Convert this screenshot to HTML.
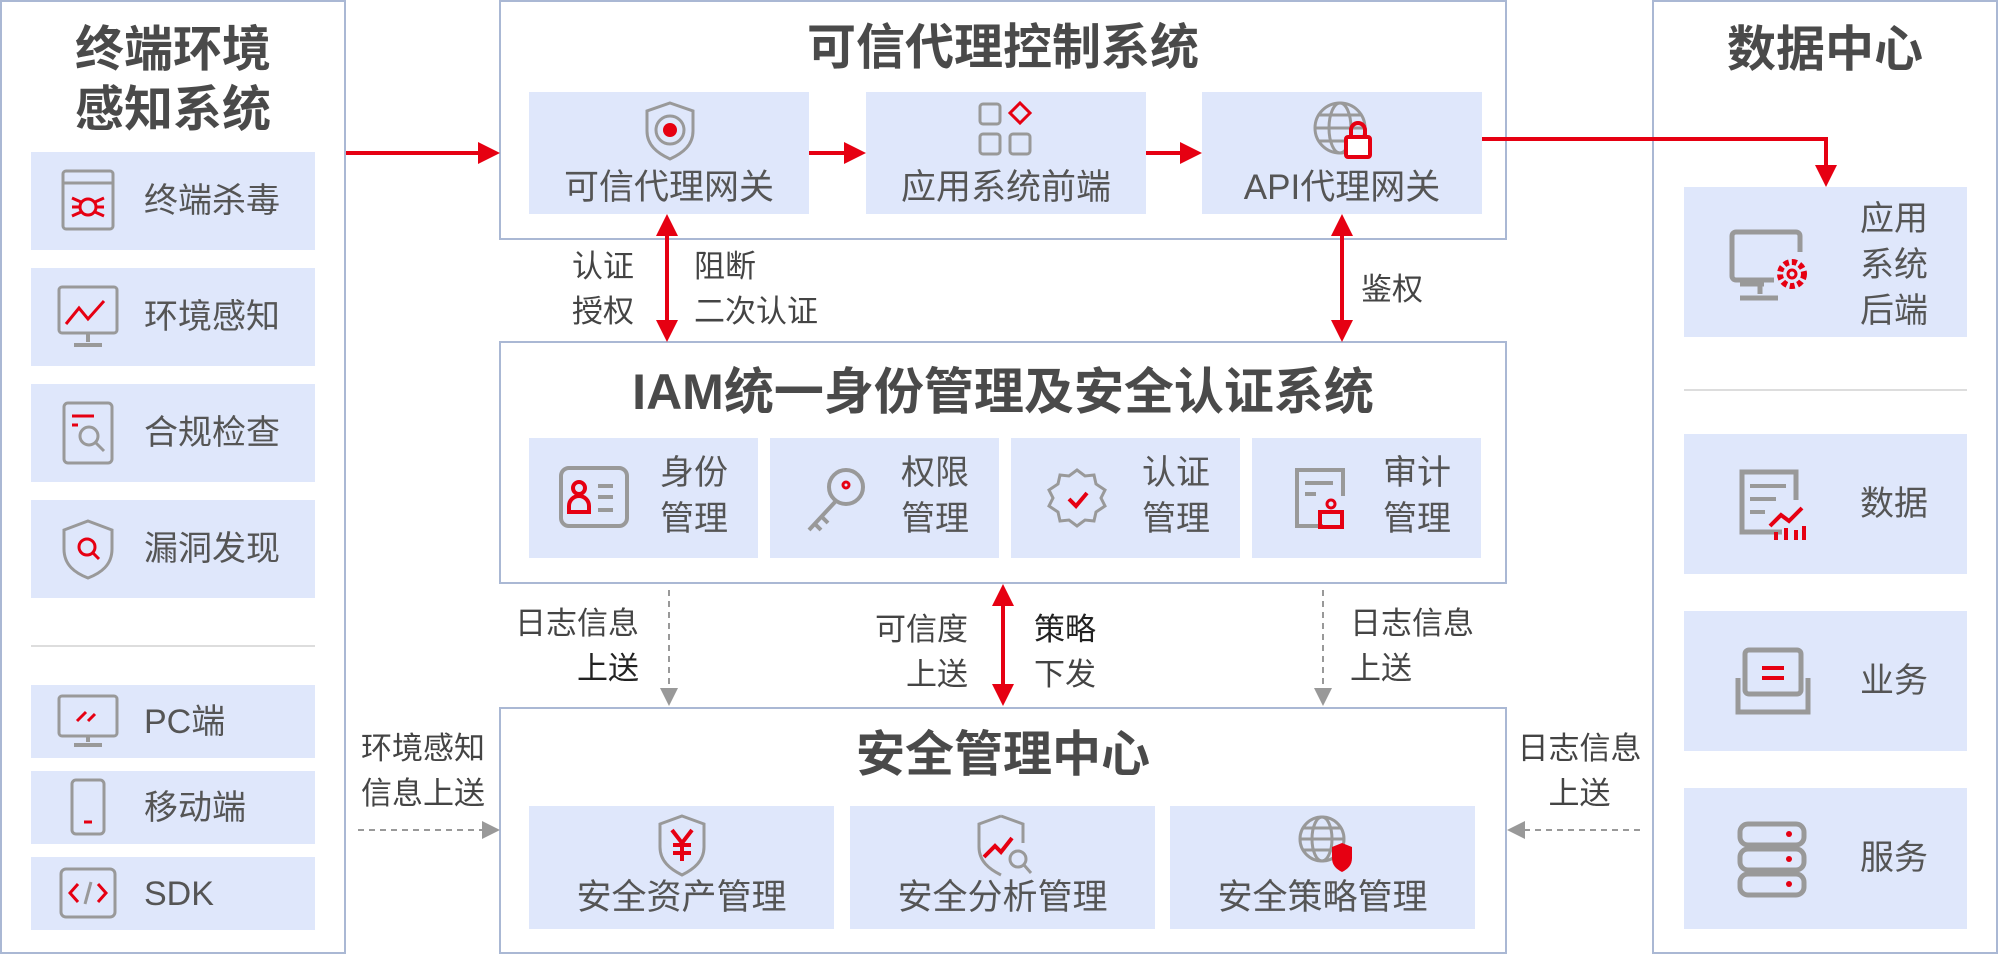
<!DOCTYPE html>
<html><head><meta charset="utf-8">
<style>
*{margin:0;padding:0;box-sizing:border-box}
body{width:2000px;height:954px;background:#fff;position:relative;overflow:hidden;font-family:"Liberation Sans","Noto Sans CJK SC",sans-serif;color:#555}
.p{position:absolute;border:2px solid #aab8d4;background:#fff}
.b{position:absolute;background:#dfe7fb}
.t{position:absolute;font-weight:bold;color:#4a4a4a;text-align:center;white-space:nowrap}
.l{position:absolute;font-size:34px;line-height:40px;white-space:nowrap;color:#555}
.lb{position:absolute;font-size:31px;line-height:45px;white-space:nowrap;color:#444}
svg.i{position:absolute}
</style></head><body>
<div class="p" style="left:0;top:0;width:346px;height:954px"></div>
<div class="p" style="left:499px;top:0;width:1008px;height:240px"></div>
<div class="p" style="left:499px;top:341px;width:1008px;height:243px"></div>
<div class="p" style="left:499px;top:707px;width:1008px;height:247px"></div>
<div class="p" style="left:1652px;top:0;width:346px;height:954px"></div>

<!-- left -->
<div class="t" style="left:0;width:346px;top:20px;font-size:49px;line-height:60px">终端环境<br>感知系统</div>
<div class="b" style="left:31px;top:152px;width:284px;height:98px"></div>
<div class="b" style="left:31px;top:268px;width:284px;height:98px"></div>
<div class="b" style="left:31px;top:384px;width:284px;height:98px"></div>
<div class="b" style="left:31px;top:500px;width:284px;height:98px"></div>
<div style="position:absolute;left:31px;top:645px;width:284px;height:2px;background:#ddd"></div>
<div class="b" style="left:31px;top:685px;width:284px;height:73px"></div>
<div class="b" style="left:31px;top:771px;width:284px;height:73px"></div>
<div class="b" style="left:31px;top:857px;width:284px;height:73px"></div>
<div class="l" style="left:144px;top:181px">终端杀毒</div>
<div class="l" style="left:144px;top:297px">环境感知</div>
<div class="l" style="left:144px;top:413px">合规检查</div>
<div class="l" style="left:144px;top:529px">漏洞发现</div>
<div class="l" style="left:144px;top:702px">PC端</div>
<div class="l" style="left:144px;top:788px">移动端</div>
<div class="l" style="left:144px;top:874px">SDK</div>
<svg class="i" style="left:60px;top:168px" width="56" height="66"><rect x="3" y="3" width="50" height="58" rx="3" fill="none" stroke="#999" stroke-width="3"/><line x1="3" y1="15" x2="53" y2="15" stroke="#999" stroke-width="3"/><circle cx="28" cy="39" r="8" fill="none" stroke="#e60012" stroke-width="3"/><path d="M12 30l9 4M12 39h8M12 48l9-4M44 30l-9 4M44 39h-8M44 48l-9-4" stroke="#e60012" stroke-width="3"/></svg>
<svg class="i" style="left:56px;top:284px" width="66" height="66"><rect x="3" y="3" width="58" height="46" rx="3" fill="none" stroke="#999" stroke-width="3"/><path d="M32 49v9M18 61h28" stroke="#999" stroke-width="4"/><path d="M10 40l13-16 9 11 16-18" fill="none" stroke="#e60012" stroke-width="3"/></svg>
<svg class="i" style="left:61px;top:400px" width="54" height="66"><rect x="3" y="3" width="48" height="60" rx="4" fill="none" stroke="#999" stroke-width="3"/><path d="M11 16h22M11 25h6" stroke="#e60012" stroke-width="3"/><circle cx="28" cy="36" r="9" fill="none" stroke="#999" stroke-width="3"/><path d="M35 43l8 8" stroke="#999" stroke-width="3"/></svg>
<svg class="i" style="left:58px;top:517px" width="60" height="66"><path d="M30 4l24 9v19c0 16-11 24-24 29C17 56 6 48 6 32V13z" fill="none" stroke="#999" stroke-width="3"/><circle cx="29" cy="30" r="8" fill="none" stroke="#e60012" stroke-width="3"/><path d="M35 36l6 6" stroke="#e60012" stroke-width="3"/></svg>
<svg class="i" style="left:56px;top:693px" width="64" height="56"><rect x="3" y="3" width="58" height="40" rx="3" fill="none" stroke="#999" stroke-width="3"/><path d="M32 43v6M18 52h28" stroke="#999" stroke-width="4"/><path d="M21 28l9-9M32 28l7-7" stroke="#e60012" stroke-width="3"/></svg>
<svg class="i" style="left:69px;top:777px" width="38" height="60"><rect x="3" y="3" width="32" height="54" rx="4" fill="none" stroke="#999" stroke-width="3"/><path d="M15 45h8" stroke="#e60012" stroke-width="3"/></svg>
<svg class="i" style="left:58px;top:866px" width="60" height="54"><rect x="3" y="3" width="54" height="48" rx="5" fill="none" stroke="#999" stroke-width="3"/><path d="M20 18l-8 9 8 9M40 18l8 9-8 9" fill="none" stroke="#e60012" stroke-width="3"/><path d="M33 16l-6 22" stroke="#999" stroke-width="3"/></svg>

<!-- top center -->
<div class="t" style="left:500px;width:1006px;top:19px;font-size:49px;line-height:58px">可信代理控制系统</div>
<div class="b" style="left:529px;top:92px;width:280px;height:122px"></div>
<div class="b" style="left:866px;top:92px;width:280px;height:122px"></div>
<div class="b" style="left:1202px;top:92px;width:280px;height:122px"></div>
<div class="l" style="left:529px;width:280px;text-align:center;top:168px;font-size:35px">可信代理网关</div>
<div class="l" style="left:866px;width:280px;text-align:center;top:168px;font-size:35px">应用系统前端</div>
<div class="l" style="left:1202px;width:280px;text-align:center;top:168px;font-size:35px">API代理网关</div>
<svg class="i" style="left:642px;top:100px" width="56" height="62"><path d="M28 3l23 8v20c0 14-10 22-23 28C15 53 5 45 5 31V11z" fill="none" stroke="#999" stroke-width="3"/><circle cx="28" cy="30" r="14" fill="none" stroke="#999" stroke-width="3"/><circle cx="28" cy="30" r="7" fill="#e60012"/></svg>
<svg class="i" style="left:977px;top:101px" width="60" height="60"><rect x="3" y="3" width="20" height="20" rx="3" fill="none" stroke="#999" stroke-width="3"/><rect x="3" y="33" width="20" height="20" rx="3" fill="none" stroke="#999" stroke-width="3"/><rect x="33" y="33" width="20" height="20" rx="3" fill="none" stroke="#999" stroke-width="3"/><path d="M43 2l10 10-10 10-10-10z" fill="none" stroke="#e60012" stroke-width="3"/></svg>
<svg class="i" style="left:1311px;top:99px" width="64" height="64"><circle cx="29" cy="29" r="25" fill="none" stroke="#999" stroke-width="3"/><ellipse cx="29" cy="29" rx="11" ry="25" fill="none" stroke="#999" stroke-width="3"/><path d="M4 29h50M8 16h42M8 42h42" stroke="#999" stroke-width="3"/><rect x="35" y="38" width="24" height="20" rx="2" fill="#fff" stroke="#e60012" stroke-width="4"/><path d="M40 38v-7a7 7 0 0 1 14 0v7" fill="none" stroke="#e60012" stroke-width="4"/></svg>

<!-- right -->
<div class="t" style="left:1652px;width:346px;top:20px;font-size:49px;line-height:60px">数据中心</div>
<div class="b" style="left:1684px;top:187px;width:283px;height:150px"></div>
<div style="position:absolute;left:1684px;top:389px;width:283px;height:2px;background:#ddd"></div>
<div class="b" style="left:1684px;top:434px;width:283px;height:140px"></div>
<div class="b" style="left:1684px;top:611px;width:283px;height:140px"></div>
<div class="b" style="left:1684px;top:788px;width:283px;height:141px"></div>
<div class="l" style="left:1860px;top:196px;line-height:46px">应用<br>系统<br>后端</div>
<div class="l" style="left:1860px;top:484px">数据</div>
<div class="l" style="left:1860px;top:661px">业务</div>
<div class="l" style="left:1860px;top:838px">服务</div>
<svg class="i" style="left:1728px;top:228px" width="84" height="80"><path d="M46 52H8a4 4 0 0 1-4-4V8a4 4 0 0 1 4-4h60a4 4 0 0 1 4 4v16" fill="none" stroke="#999" stroke-width="5"/><path d="M32 54v12M12 70h38M12 56h24" stroke="#999" stroke-width="5"/><circle cx="64" cy="46" r="12" fill="none" stroke="#e60012" stroke-width="6" stroke-dasharray="5 3"/><circle cx="64" cy="46" r="4" fill="none" stroke="#e60012" stroke-width="3"/></svg>
<svg class="i" style="left:1736px;top:466px" width="74" height="76"><path d="M46 66H6V6h54v28" fill="none" stroke="#999" stroke-width="5"/><path d="M14 20h36M14 33h26M14 46h15" stroke="#999" stroke-width="4"/><path d="M34 60l11-11 8 6 13-13" fill="none" stroke="#e60012" stroke-width="4"/><path d="M40 74v-8M50 74v-12M60 74v-10M68 74v-14" stroke="#e60012" stroke-width="4"/></svg>
<svg class="i" style="left:1734px;top:646px" width="78" height="72"><rect x="11" y="4" width="56" height="44" rx="4" fill="none" stroke="#999" stroke-width="5"/><path d="M28 22h22M28 32h22" stroke="#e60012" stroke-width="4"/><path d="M4 32v34h70V32" fill="none" stroke="#999" stroke-width="5"/></svg>
<svg class="i" style="left:1736px;top:820px" width="72" height="80"><rect x="4" y="4" width="64" height="21" rx="8" fill="none" stroke="#999" stroke-width="5"/><rect x="4" y="29" width="64" height="21" rx="8" fill="none" stroke="#999" stroke-width="5"/><rect x="4" y="54" width="64" height="21" rx="8" fill="none" stroke="#999" stroke-width="5"/><circle cx="53" cy="14" r="3" fill="#e60012"/><circle cx="53" cy="39" r="3" fill="#e60012"/><circle cx="53" cy="64" r="3" fill="#e60012"/></svg>

<!-- IAM -->
<div class="t" style="left:500px;width:1006px;top:362px;font-size:50px;line-height:60px">IAM统一身份管理及安全认证系统</div>
<div class="b" style="left:529px;top:438px;width:229px;height:120px"></div>
<div class="b" style="left:770px;top:438px;width:229px;height:120px"></div>
<div class="b" style="left:1011px;top:438px;width:229px;height:120px"></div>
<div class="b" style="left:1252px;top:438px;width:229px;height:120px"></div>
<div class="l" style="left:660px;top:450px;line-height:46px">身份<br>管理</div>
<div class="l" style="left:901px;top:450px;line-height:46px">权限<br>管理</div>
<div class="l" style="left:1142px;top:450px;line-height:46px">认证<br>管理</div>
<div class="l" style="left:1383px;top:450px;line-height:46px">审计<br>管理</div>
<svg class="i" style="left:558px;top:465px" width="72" height="64"><rect x="3" y="3" width="66" height="58" rx="8" fill="none" stroke="#999" stroke-width="4"/><circle cx="21" cy="23" r="6" fill="none" stroke="#e60012" stroke-width="4"/><path d="M11 47v-6a10 10 0 0 1 20 0v6z" fill="none" stroke="#e60012" stroke-width="4"/><path d="M40 21h15M40 32h15M40 45h15" stroke="#999" stroke-width="4"/></svg>
<svg class="i" style="left:803px;top:464px" width="66" height="70"><circle cx="43" cy="23" r="17" fill="none" stroke="#999" stroke-width="4"/><circle cx="43" cy="21" r="3" fill="none" stroke="#e60012" stroke-width="3"/><path d="M32 38L6 66M12 60l6 6M19 53l6 6" stroke="#999" stroke-width="4"/></svg>
<svg class="i" style="left:1044px;top:466px" width="66" height="66"><path d="M33 4l8 6 9-1 2 9 9 6-4 8 4 8-9 6-2 9-9-1-8 6-8-6-9 1-2-9-9-6 4-8-4-8 9-6 2-9 9 1z" fill="none" stroke="#999" stroke-width="3"/><path d="M25 33l7 7 11-13" fill="none" stroke="#e60012" stroke-width="4"/></svg>
<svg class="i" style="left:1293px;top:466px" width="60" height="66"><path d="M30 60H4V4h46v26" fill="none" stroke="#999" stroke-width="4"/><path d="M12 17h28M12 28h11" stroke="#999" stroke-width="4"/><circle cx="38" cy="38" r="4" fill="none" stroke="#e60012" stroke-width="3"/><rect x="27" y="46" width="22" height="15" fill="none" stroke="#e60012" stroke-width="4"/></svg>

<!-- security center -->
<div class="t" style="left:500px;width:1006px;top:726px;font-size:49px;line-height:58px">安全管理中心</div>
<div class="b" style="left:529px;top:806px;width:305px;height:123px"></div>
<div class="b" style="left:850px;top:806px;width:305px;height:123px"></div>
<div class="b" style="left:1170px;top:806px;width:305px;height:123px"></div>
<div class="l" style="left:529px;width:305px;text-align:center;top:878px;font-size:35px">安全资产管理</div>
<div class="l" style="left:850px;width:305px;text-align:center;top:878px;font-size:35px">安全分析管理</div>
<div class="l" style="left:1170px;width:305px;text-align:center;top:878px;font-size:35px">安全策略管理</div>
<svg class="i" style="left:655px;top:813px" width="54" height="66"><path d="M27 3l22 8v23c0 14-10 22-22 28C15 56 5 48 5 34V11z" fill="none" stroke="#999" stroke-width="3"/><path d="M17 17l10 13 10-13M27 30v18M18 32h18M18 40h18" stroke="#e60012" stroke-width="4" fill="none"/></svg>
<svg class="i" style="left:974px;top:813px" width="62" height="68"><path d="M27 3l22 8v19M27 62C15 56 5 48 5 34V11l22-8" fill="none" stroke="#999" stroke-width="3"/><path d="M10 44l11-11 6 6 11-14" fill="none" stroke="#e60012" stroke-width="4"/><circle cx="44" cy="46" r="8" fill="none" stroke="#999" stroke-width="3"/><path d="M50 52l7 8" stroke="#999" stroke-width="3"/></svg>
<svg class="i" style="left:1298px;top:815px" width="58" height="62"><circle cx="24" cy="24" r="22" fill="none" stroke="#999" stroke-width="3"/><ellipse cx="24" cy="24" rx="10" ry="22" fill="none" stroke="#999" stroke-width="3"/><path d="M2 24h44M6 13h36M6 35h36" stroke="#999" stroke-width="3"/><path d="M44 28l10 4v11c0 7-4 11-10 14-6-3-10-7-10-14V32z" fill="#e60012"/></svg>

<!-- connectors -->
<svg style="position:absolute;left:0;top:0" width="2000" height="954">
<g fill="#e60012">
<path d="M346 153h134" stroke="#e60012" stroke-width="4"/><path d="M500 153l-22-11v22z"/>
<path d="M809 153h37" stroke="#e60012" stroke-width="4"/><path d="M866 153l-22-11v22z"/>
<path d="M1146 153h36" stroke="#e60012" stroke-width="4"/><path d="M1202 153l-22-11v22z"/>
<path d="M1482 139H1826V167" fill="none" stroke="#e60012" stroke-width="4"/><path d="M1826 187l-11-22h22z"/>
<path d="M667 236V320" stroke="#e60012" stroke-width="4"/><path d="M667 214l-11 22h22z"/><path d="M667 342l-11-22h22z"/>
<path d="M1342 236V320" stroke="#e60012" stroke-width="4"/><path d="M1342 214l-11 22h22z"/><path d="M1342 342l-11-22h22z"/>
<path d="M1003 605V684" stroke="#e60012" stroke-width="4"/><path d="M1003 584l-11 22h22z"/><path d="M1003 706l-11-22h22z"/>
</g>
<g fill="#999">
<path d="M669 590V688" stroke="#999" stroke-width="2" stroke-dasharray="6 5"/><path d="M669 706l-9-18h18z"/>
<path d="M1323 590V688" stroke="#999" stroke-width="2" stroke-dasharray="6 5"/><path d="M1323 706l-9-18h18z"/>
<path d="M358 830H482" stroke="#999" stroke-width="2" stroke-dasharray="6 5"/><path d="M500 830l-18-9v18z"/>
<path d="M1640 830H1524" stroke="#999" stroke-width="2" stroke-dasharray="6 5"/><path d="M1507 830l18-9v18z"/>
</g>
</svg>

<!-- labels -->
<div class="lb" style="left:572px;top:244px">认证<br>授权</div>
<div class="lb" style="left:694px;top:244px">阻断<br>二次认证</div>
<div class="lb" style="left:1361px;top:267px">鉴权</div>
<div class="lb" style="left:500px;width:139px;text-align:right;top:601px">日志信息<br><span style="color:#222">上送</span></div>
<div class="lb" style="left:840px;width:128px;text-align:right;top:607px">可信度<br>上送</div>
<div class="lb" style="left:1034px;top:607px;color:#222">策略<br><span style="color:#444">下发</span></div>
<div class="lb" style="left:1350px;top:601px">日志信息<br>上送</div>
<div class="lb" style="left:346px;width:154px;text-align:center;top:726px">环境感知<br>信息上送</div>
<div class="lb" style="left:1507px;width:145px;text-align:center;top:726px">日志信息<br>上送</div>
</body></html>
